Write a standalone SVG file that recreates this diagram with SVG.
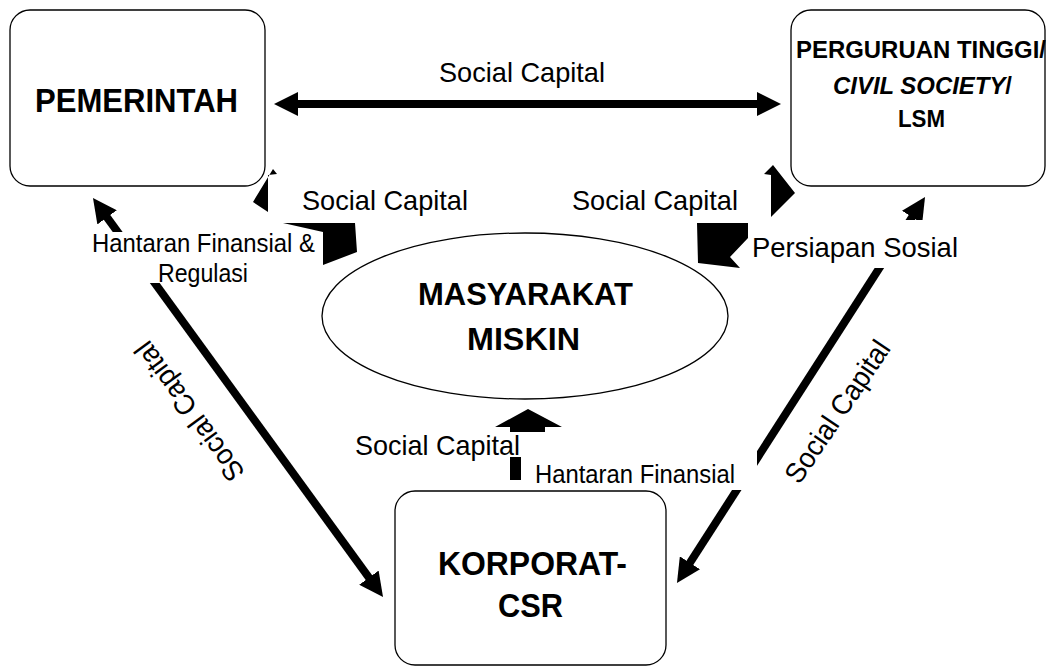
<svg xmlns="http://www.w3.org/2000/svg" width="1046" height="666" viewBox="0 0 1046 666">
<style>
.n{fill:#fff;stroke:#000;stroke-width:1.3}
.t{font-family:"Liberation Sans",Arial,sans-serif;fill:#000}
.b{font-weight:bold}
.c{stroke:#000;stroke-width:8;fill:none}
.k{fill:#000;stroke:none}
.w{fill:#fff;stroke:none}
</style>
<defs>
<marker id="ah" viewBox="0 0 24 24" refX="1" refY="12" markerWidth="24" markerHeight="24" markerUnits="userSpaceOnUse" orient="auto-start-reverse">
<path d="M0,0 L24,12 L0,24 Z" fill="#000"/>
</marker>
</defs>
<rect width="1046" height="666" fill="#fff"/>

<g id="pemerintah">
<rect class="n" x="10" y="10" width="255" height="176" rx="20"/>
<text class="t b" x="35" y="112" font-size="33" textLength="203" lengthAdjust="spacingAndGlyphs">PEMERINTAH</text>
</g>

<g id="perguruan">
<rect class="n" x="791" y="10" width="254" height="176" rx="20"/>
<text class="t b" x="796" y="58" font-size="24" textLength="250" lengthAdjust="spacingAndGlyphs">PERGURUAN TINGGI/</text>
<text class="t b" x="833" y="94" font-size="24" textLength="179" lengthAdjust="spacingAndGlyphs"><tspan font-style="italic">CIVIL SOCIETY</tspan>/</text>
<text class="t b" x="898" y="127" font-size="24" textLength="47" lengthAdjust="spacingAndGlyphs">LSM</text>
</g>

<g id="masyarakat">
<ellipse class="n" cx="525" cy="316" rx="203" ry="83"/>
<text class="t b" x="418" y="305" font-size="32" textLength="215" lengthAdjust="spacingAndGlyphs">MASYARAKAT</text>
<text class="t b" x="467" y="350" font-size="32" textLength="113" lengthAdjust="spacingAndGlyphs">MISKIN</text>
</g>

<g id="korporat">
<rect class="n" x="395" y="491" width="271" height="174" rx="20"/>
<text class="t b" x="438" y="575" font-size="34" textLength="189" lengthAdjust="spacingAndGlyphs">KORPORAT-</text>
<text class="t b" x="498" y="617" font-size="34" textLength="65" lengthAdjust="spacingAndGlyphs">CSR</text>
</g>

<g id="connectors">
<line class="c" x1="297" y1="104" x2="758" y2="104" marker-start="url(#ah)" marker-end="url(#ah)"/>
<line class="c" x1="106.5" y1="216.6" x2="369.5" y2="578.4" marker-start="url(#ah)" marker-end="url(#ah)"/>
<line class="c" x1="689.4" y1="563.7" x2="912.6" y2="216.3" marker-start="url(#ah)" marker-end="url(#ah)"/>
<polygon class="k" points="495,427 528,409 562,427 545,427 545,480 510,480 510,427"/>
<polygon class="k" points="273,169 277,174 268,175 268,212 253,202"/>
<polygon class="k" points="283,223 355,223 357,252 323,265 323,232"/>
<polygon class="k" points="773,165 795,193 771,217 771,175 764,174"/>
<polygon class="k" points="697,223 748,223 748,238 730,257 740,268 698,263"/>
</g>

<g id="labels">
<text class="t" x="439" y="82" font-size="28.5" textLength="166" lengthAdjust="spacingAndGlyphs">Social Capital</text>
<text class="t" x="302" y="210" font-size="28.5" textLength="166" lengthAdjust="spacingAndGlyphs">Social Capital</text>
<text class="t" x="572" y="210" font-size="28.5" textLength="166" lengthAdjust="spacingAndGlyphs">Social Capital</text>
<rect class="w" x="85" y="232" width="238" height="51"/>
<text class="t" x="92" y="252" font-size="26" textLength="223" lengthAdjust="spacingAndGlyphs">Hantaran Finansial &amp;</text>
<text class="t" x="158" y="282" font-size="26" textLength="90" lengthAdjust="spacingAndGlyphs">Regulasi</text>
<rect class="w" x="748" y="220" width="214" height="48"/>
<text class="t" x="752" y="257" font-size="28.5" textLength="206" lengthAdjust="spacingAndGlyphs">Persiapan Sosial</text>
<rect class="w" x="350" y="432" width="171" height="25"/>
<text class="t" x="355" y="455" font-size="28.5" textLength="165" lengthAdjust="spacingAndGlyphs">Social Capital</text>
<rect class="w" x="521" y="432" width="236" height="58"/>
<text class="t" x="535" y="483" font-size="26" textLength="200" lengthAdjust="spacingAndGlyphs">Hantaran Finansial</text>
<text class="t" transform="translate(190,411) rotate(234)" x="0" y="9" font-size="28.5" text-anchor="middle" textLength="165" lengthAdjust="spacingAndGlyphs">Social Capital</text>
<text class="t" transform="translate(838,412) rotate(-56)" x="0" y="9" font-size="28.5" text-anchor="middle" textLength="165" lengthAdjust="spacingAndGlyphs">Social Capital</text>
</g>
</svg>
